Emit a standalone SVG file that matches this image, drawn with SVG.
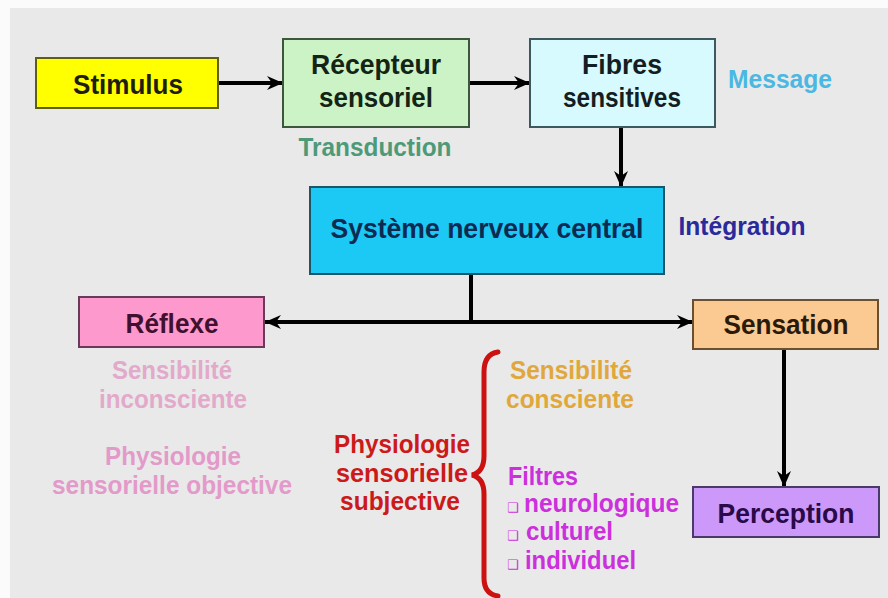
<svg xmlns="http://www.w3.org/2000/svg" width="888" height="598" viewBox="0 0 888 598">
<defs>
<style>
text{font-family:"Liberation Sans",Arial,sans-serif;font-weight:bold;}
.box{stroke-width:2;}
.bt{font-size:28px;text-anchor:middle;}
.lb{font-size:26px;}
.fl{font-size:25px;}
.c{text-anchor:middle;}
.conn{stroke:#000;stroke-width:4;fill:none;}
.sq{font-size:13px;font-family:"DejaVu Sans",sans-serif;font-weight:normal;}
</style>
<marker id="ah" markerUnits="userSpaceOnUse" markerWidth="18" markerHeight="16" refX="16" refY="7" orient="auto-start-reverse">
<path d="M0,0 L16,7 L0,14 L5,7 z" fill="#000"/>
</marker>
</defs>
<rect x="0" y="0" width="888" height="598" fill="#fbfbfb"/>
<rect x="10" y="8" width="878" height="590" fill="#e9e9e9"/>

<g id="connectors">
<line class="conn" x1="219" y1="83" x2="283" y2="83" marker-end="url(#ah)"/>
<line class="conn" x1="470" y1="83" x2="530" y2="83" marker-end="url(#ah)"/>
<line class="conn" x1="621" y1="128" x2="621" y2="187" marker-end="url(#ah)"/>
<line class="conn" x1="471" y1="275" x2="471" y2="322"/>
<line class="conn" x1="265" y1="322" x2="693" y2="322" marker-start="url(#ah)" marker-end="url(#ah)"/>
<line class="conn" x1="784" y1="350" x2="784" y2="487" marker-end="url(#ah)"/>
</g>

<g id="stimulus">
<rect class="box" x="36" y="58" width="182" height="50" fill="#ffff00" stroke="#5e5e14"/>
<text class="bt" x="128" y="94" fill="#1e1e10" textLength="110" lengthAdjust="spacingAndGlyphs">Stimulus</text>
</g>
<g id="recepteur">
<rect class="box" x="283" y="39" width="186" height="88" fill="#ccf3c6" stroke="#3c573c"/>
<text class="bt" x="376" y="74" fill="#142414" textLength="130" lengthAdjust="spacingAndGlyphs">Récepteur</text>
<text class="bt" x="376" y="107" fill="#142414" textLength="114" lengthAdjust="spacingAndGlyphs">sensoriel</text>
</g>
<g id="fibres">
<rect class="box" x="530" y="39" width="185" height="88" fill="#d6fafd" stroke="#3c5a5e"/>
<text class="bt" x="622" y="74" fill="#141e22" textLength="80" lengthAdjust="spacingAndGlyphs">Fibres</text>
<text class="bt" x="622" y="107" fill="#141e22" textLength="118" lengthAdjust="spacingAndGlyphs">sensitives</text>
</g>
<g id="snc">
<rect class="box" x="310" y="187" width="354" height="87" fill="#1cc8f4" stroke="#1d5568"/>
<text class="bt" x="487" y="238" fill="#0c2a52" textLength="313" lengthAdjust="spacingAndGlyphs">Système nerveux central</text>
</g>
<g id="reflexe">
<rect class="box" x="79" y="297" width="185" height="50" fill="#fd99cd" stroke="#6a3a5a"/>
<text class="bt" x="172" y="333" fill="#40102e" textLength="93" lengthAdjust="spacingAndGlyphs">Réflexe</text>
</g>
<g id="sensation">
<rect class="box" x="693" y="300" width="185" height="49" fill="#fbca92" stroke="#6a5030"/>
<text class="bt" x="786" y="334" fill="#2a1a0a" textLength="125" lengthAdjust="spacingAndGlyphs">Sensation</text>
</g>
<g id="perception">
<rect class="box" x="693" y="487" width="186" height="50" fill="#cc99fb" stroke="#4a3a6a"/>
<text class="bt" x="786" y="523" fill="#2a0a48" textLength="137" lengthAdjust="spacingAndGlyphs">Perception</text>
</g>

<g id="labels">
<text class="lb c" x="375" y="156" fill="#4d9a78" textLength="153" lengthAdjust="spacingAndGlyphs">Transduction</text>
<text class="lb c" x="780" y="88" fill="#4ab8e2" textLength="104" lengthAdjust="spacingAndGlyphs">Message</text>
<text class="lb c" x="742" y="235" fill="#2a2a9c" textLength="127" lengthAdjust="spacingAndGlyphs">Intégration</text>
<text class="lb c" x="172" y="379" fill="#e2a9cb" textLength="120" lengthAdjust="spacingAndGlyphs">Sensibilité</text>
<text class="lb c" x="173" y="408" fill="#e2a9cb" textLength="148" lengthAdjust="spacingAndGlyphs">inconsciente</text>
<text class="lb c" x="173" y="465" fill="#e39aca" textLength="136" lengthAdjust="spacingAndGlyphs">Physiologie</text>
<text class="lb c" x="172" y="494" fill="#e39aca" textLength="240" lengthAdjust="spacingAndGlyphs">sensorielle objective</text>
<text class="lb c" x="402" y="453" fill="#cc1a1a" textLength="136" lengthAdjust="spacingAndGlyphs">Physiologie</text>
<text class="lb c" x="402" y="482" fill="#cc1a1a" textLength="132" lengthAdjust="spacingAndGlyphs">sensorielle</text>
<text class="lb c" x="400" y="510" fill="#cc1a1a" textLength="120" lengthAdjust="spacingAndGlyphs">subjective</text>
<text class="lb" x="510" y="379" fill="#e0a83c" textLength="122" lengthAdjust="spacingAndGlyphs">Sensibilité</text>
<text class="lb" x="506" y="408" fill="#e0a83c" textLength="128" lengthAdjust="spacingAndGlyphs">consciente</text>
<text class="lb" x="508" y="485" fill="#cc30dc" textLength="70" lengthAdjust="spacingAndGlyphs">Filtres</text>
<text class="sq" x="507" y="512" fill="#cc30dc">❑</text>
<text class="fl" x="524" y="512" fill="#cc30dc" textLength="155" lengthAdjust="spacingAndGlyphs">neurologique</text>
<text class="sq" x="507" y="540" fill="#cc30dc">❑</text>
<text class="fl" x="526" y="540" fill="#cc30dc" textLength="87" lengthAdjust="spacingAndGlyphs">culturel</text>
<text class="sq" x="507" y="569" fill="#cc30dc">❑</text>
<text class="fl" x="525" y="569" fill="#cc30dc" textLength="111" lengthAdjust="spacingAndGlyphs">individuel</text>
<path d="M498,352 Q484,354 484,372 L484,456 Q484,472 472,475 Q484,478 484,494 L484,578 Q484,594 498,596" fill="none" stroke="#cc1111" stroke-width="5" stroke-linecap="round"/>
</g>
</svg>
